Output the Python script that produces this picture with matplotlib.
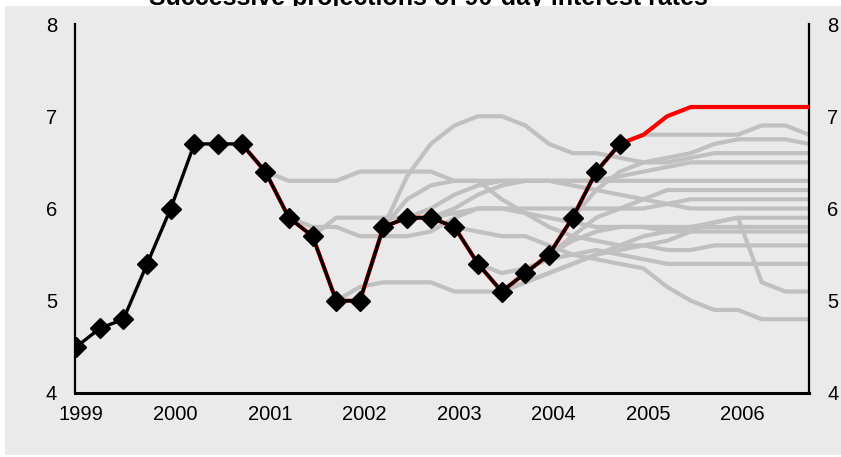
import matplotlib.pyplot as plt
from matplotlib.patches import Rectangle

plt.rcParams['font.family'] = ['Liberation Sans', 'DejaVu Sans']

# quarterly axis: 0 = 1999Q1 ... 31 = 2006Q4
year_labels = ["1999", "2000", "2001", "2002", "2003", "2004", "2005", "2006"]
y_ticks = [4, 5, 6, 7, 8]

# observed 90-day rate, 1999Q1 - 2004Q4
history = [4.5, 4.7, 4.8, 5.4, 6.0, 6.7, 6.7, 6.7, 6.4, 5.9, 5.7, 5.0,
           5.0, 5.8, 5.9, 5.9, 5.8, 5.4, 5.1, 5.3, 5.5, 5.9, 6.4, 6.7]

# latest projection (red), starts at the last observation
latest_start = 23
latest_proj = [6.7, 6.8, 7.0, 7.1, 7.1, 7.1, 7.1, 7.1, 7.1]

# earlier projections (grey), each runs from its start quarter to 2006Q4
proj_q08 = [6.4, 6.3, 6.3, 6.3, 6.4, 6.4, 6.4, 6.4, 6.3, 6.3, 6.3, 6.3,
            6.3, 6.3, 6.3, 6.3, 6.3, 6.3, 6.3, 6.3, 6.3, 6.3, 6.3, 6.3]
proj_q09 = [5.9, 5.8, 5.8, 5.7, 5.7, 5.7, 5.75, 5.9, 6.0, 6.0, 5.95, 5.9,
            5.85, 5.8, 5.8, 5.8, 5.75, 5.75, 5.75, 5.75, 5.75, 5.75, 5.75]
proj_q10 = [5.7, 5.9, 5.9, 5.9, 5.9, 5.9, 5.95, 6.0, 6.0, 6.0, 6.0, 6.0,
            6.0, 6.0, 6.0, 6.05, 6.1, 6.1, 6.1, 6.1, 6.1, 6.1]
proj_q11 = [5.0, 5.15, 5.2, 5.2, 5.2, 5.1, 5.1, 5.1, 5.2, 5.3, 5.4, 5.5,
            5.6, 5.7, 5.75, 5.8, 5.85, 5.9, 5.9, 5.9, 5.9]
proj_q12 = [5.0, 5.8, 6.35, 6.7, 6.9, 7.0, 7.0, 6.9, 6.7, 6.6, 6.6, 6.55,
            6.5, 6.5, 6.55, 6.6, 6.6, 6.6, 6.6, 6.6]
proj_q13 = [5.8, 6.1, 6.25, 6.3, 6.3, 6.1, 5.95, 5.8, 5.7, 5.65, 5.6, 5.6,
            5.55, 5.55, 5.6, 5.6, 5.6, 5.6, 5.6]
proj_q14 = [5.9, 6.0, 6.15, 6.25, 6.3, 6.3, 6.3, 6.25, 6.2, 6.15, 6.1, 6.05,
            6.0, 6.0, 6.0, 6.0, 6.0, 6.0]
proj_q15 = [5.9, 6.0, 6.15, 6.25, 6.3, 6.3, 6.3, 6.3, 6.35, 6.4, 6.45, 6.5,
            6.5, 6.5, 6.5, 6.5, 6.5]
proj_q16 = [5.8, 5.75, 5.7, 5.7, 5.6, 5.5, 5.45, 5.4, 5.35, 5.15, 5.0, 4.9,
            4.9, 4.8, 4.8, 4.8]
proj_q17 = [5.4, 5.3, 5.35, 5.45, 5.5, 5.55, 5.5, 5.45, 5.4, 5.4, 5.4, 5.4,
            5.4, 5.4, 5.4]
proj_q18 = [5.1, 5.2, 5.3, 5.4, 5.5, 5.55, 5.6, 5.65, 5.75, 5.85, 5.9, 5.2,
            5.1, 5.1]
proj_q19 = [5.3, 5.5, 5.65, 5.75, 5.8, 5.8, 5.8, 5.8, 5.8, 5.8, 5.8, 5.8, 5.8]
proj_q20 = [5.5, 5.7, 5.9, 6.0, 6.1, 6.2, 6.2, 6.2, 6.2, 6.2, 6.2, 6.2]
proj_q21 = [5.9, 6.2, 6.4, 6.5, 6.55, 6.6, 6.7, 6.75, 6.75, 6.75, 6.7]
proj_q22 = [6.4, 6.7, 6.8, 6.8, 6.8, 6.8, 6.8, 6.9, 6.9, 6.8]

grey_projs = [(8, proj_q08), (9, proj_q09), (10, proj_q10), (11, proj_q11),
              (12, proj_q12), (13, proj_q13), (14, proj_q14), (15, proj_q15),
              (16, proj_q16), (17, proj_q17), (18, proj_q18), (19, proj_q19),
              (20, proj_q20), (21, proj_q21), (22, proj_q22)]

W, H = 841, 457
fig = plt.figure(figsize=(W / 100, H / 100), dpi=100)

# title sits above the grey panel and is cut at the top edge (as in the source)
fig.text(428 / W, 1 - 5 / H, "Successive projections of 90-day interest rates",
         ha="center", va="baseline", fontsize=18, fontweight="bold", zorder=0)
fig.patches.append(Rectangle((5 / W, 2 / H), 836 / W, 449 / H, transform=fig.transFigure,
                             facecolor="#eaeaea", edgecolor="none", zorder=1))

ax = fig.add_axes([75 / W, 1 - 393 / H, (809 - 75) / W, (393 - 24) / H], zorder=2)
ax.set_facecolor("none")

for start, vals in grey_projs:
    ax.plot(range(start, start + len(vals)), vals, color="#c0c0c0", lw=3,
            solid_joinstyle="round", zorder=2)

# red: latest projection, drawn under the history too
red_x = list(range(7, latest_start)) + list(range(latest_start, latest_start + len(latest_proj)))
red_y = history[7:latest_start] + latest_proj
ax.plot(red_x, red_y, color="#ff0000", lw=3, zorder=3)

ax.plot(range(len(history)), history, color="black", lw=2.4, marker="D", ms=10,
        mec="black", mfc="black", zorder=4)

ax.set_xlim(-0.05, 31)
ax.set_ylim(4, 8)
ax.set_xticks([4 * i + 0.2 for i in range(len(year_labels))])
ax.set_xticklabels(year_labels)
ax.set_yticks(y_ticks)
ax.set_yticklabels([str(v) for v in y_ticks])

ax.spines["top"].set_visible(False)
ax.spines["left"].set_linewidth(1.6)
ax.spines["right"].set_linewidth(1.6)
ax.spines["bottom"].set_linewidth(2.2)
ax.tick_params(axis="y", length=0, labelsize=14.5, pad=13, labelright=True, right=True)
ax.tick_params(axis="x", length=0, labelsize=14.5, pad=9)

fig.savefig("out.png", dpi=100)
